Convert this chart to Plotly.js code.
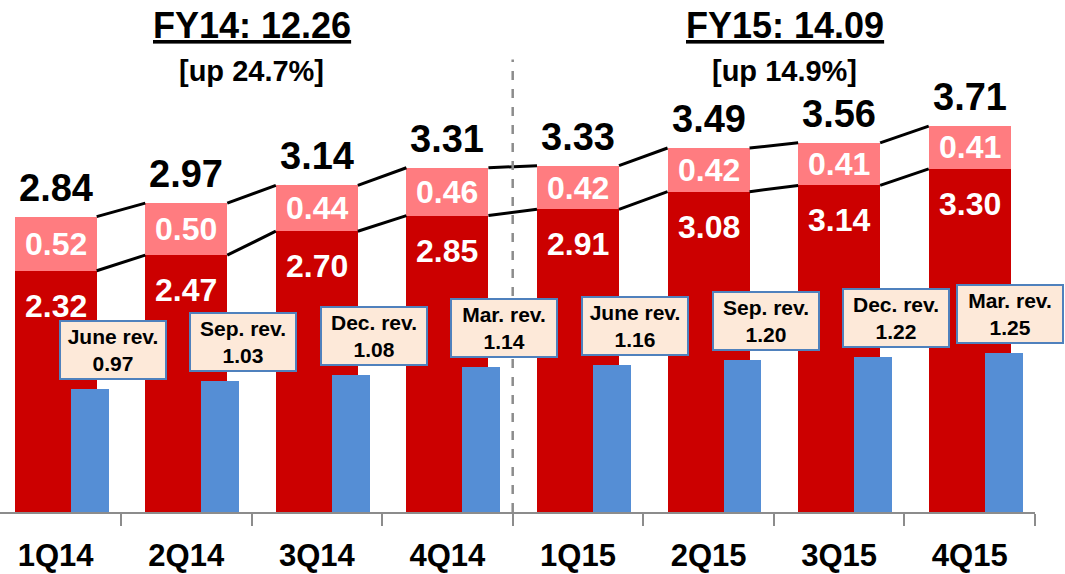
<!DOCTYPE html>
<html>
<head>
<meta charset="utf-8">
<script src="https://cdn.plot.ly/plotly-3.0.1.min.js"></script>
<style>html,body{margin:0;padding:0;background:#fff;}#chart{width:1065px;height:574px;}</style>
</head>
<body>
<div id="chart"></div>
<script>
// ---- data ----
const categories = ['1Q14', '2Q14', '3Q14', '4Q14', '1Q15', '2Q15', '3Q15', '4Q15'];
const coreValues = [2.32, 2.47, 2.70, 2.85, 2.91, 3.08, 3.14, 3.30];
const addValues = [0.52, 0.50, 0.44, 0.46, 0.42, 0.42, 0.41, 0.41];
const totalValues = [2.84, 2.97, 3.14, 3.31, 3.33, 3.49, 3.56, 3.71];
const revValues = [0.97, 1.03, 1.08, 1.14, 1.16, 1.20, 1.22, 1.25];
const revLabels = ['June rev.', 'Sep. rev.', 'Dec. rev.', 'Mar. rev.', 'June rev.', 'Sep. rev.', 'Dec. rev.', 'Mar. rev.'];
const fyTitles = ['FY14: 12.26', 'FY15: 14.09'];
const fySubtitles = ['[up 24.7%]', '[up 14.9%]'];

// ---- styling ----
const FONT = 'Liberation Sans, Arial, sans-serif';
const RED = '#CC0000', PINK = '#FF7C80', BLUE = '#558ED5';
const BAR_W = 0.628, BLUE_W = 0.29, BLUE_OFF = 0.26;

const idx = categories.map((c, i) => i);

const traces = [
  {type: 'bar', x: idx, y: coreValues, width: BAR_W, offset: -BAR_W / 2,
   marker: {color: RED}, hoverinfo: 'skip', showlegend: false},
  {type: 'bar', x: idx, y: addValues, width: BAR_W, offset: -BAR_W / 2,
   marker: {color: PINK}, hoverinfo: 'skip', showlegend: false},
  {type: 'bar', x: idx, y: revValues, yaxis: 'y2', width: BLUE_W, offset: BLUE_OFF - BLUE_W / 2,
   marker: {color: BLUE}, hoverinfo: 'skip', showlegend: false}
];

// series connector lines (bar edge to next bar edge)
function connector(vals) {
  const xs = [], ys = [];
  for (let i = 0; i < vals.length - 1; i++) {
    xs.push(i + BAR_W / 2, i + 1 - BAR_W / 2, null);
    ys.push(vals[i], vals[i + 1], null);
  }
  return {type: 'scatter', mode: 'lines', x: xs, y: ys, connectgaps: false,
          line: {color: '#000', width: 3}, hoverinfo: 'skip', showlegend: false};
}
const stackTops = coreValues.map((v, i) => v + addValues[i]);
traces.push(connector(stackTops));
traces.push(connector(coreValues));

const annotations = [];
idx.forEach(i => {
  annotations.push({x: i, y: stackTops[i], xref: 'x', yref: 'y', text: '<b>' + totalValues[i].toFixed(2) + '</b>',
    showarrow: false, yanchor: 'middle', yshift: 29, font: {family: FONT, size: 38, color: '#000'}});
  annotations.push({x: i, y: coreValues[i] + addValues[i] / 2, xref: 'x', yref: 'y', text: '<b>' + addValues[i].toFixed(2) + '</b>',
    showarrow: false, yanchor: 'middle', font: {family: FONT, size: 32, color: '#fff'}});
  annotations.push({x: i, y: coreValues[i], xref: 'x', yref: 'y', text: '<b>' + coreValues[i].toFixed(2) + '</b>',
    showarrow: false, yanchor: 'middle', yshift: -35, font: {family: FONT, size: 32, color: '#fff'}});
  annotations.push({x: i + BLUE_OFF, y: revValues[i], xref: 'x', yref: 'y2',
    text: '<b>' + revLabels[i] + '</b><br><b>' + revValues[i].toFixed(2) + '</b>',
    showarrow: false, xanchor: 'center', yanchor: 'bottom',
    xshift: (i === idx.length - 1) ? 6 : 23, yshift: 9,
    bgcolor: '#FDE9D9', bordercolor: '#4F81BD', borderwidth: 2, borderpad: 2,
    width: 100, height: 52, align: 'center',
    font: {family: FONT, size: 21, color: '#000'}});
});
const fyX = [1.5, 5.585];
fyTitles.forEach((t, k) => {
  annotations.push({x: fyX[k], y: 1.0093, xref: 'x', yref: 'paper', text: '<b>' + t + '</b>',
    showarrow: false, yanchor: 'middle', font: {family: FONT, size: 36, color: '#000', lineposition: 'under'}});
  annotations.push({x: fyX[k], y: 0.915, xref: 'x', yref: 'paper', text: '<b>' + fySubtitles[k] + '</b>',
    showarrow: false, yanchor: 'middle', font: {family: FONT, size: 29, color: '#000'}});
});

const boundaries = idx.map(i => i + 0.5);

const layout = {
  width: 1065, height: 574,
  margin: {l: 0, r: 30, t: 30, b: 62},
  paper_bgcolor: '#fff', plot_bgcolor: '#fff',
  barmode: 'stack', showlegend: false,
  font: {family: FONT},
  xaxis: {range: [-0.4265, 7.5], tickmode: 'array', tickvals: idx, ticktext: categories,
          ticks: '', showgrid: false, zeroline: false, showline: true, linecolor: '#8C8C8C', linewidth: 2,
          ticklabelstandoff: 15, tickfont: {family: FONT, size: 31, color: '#000', weight: 'bold'},
          minor: {tickmode: 'array', tickvals: boundaries, ticks: 'outside', ticklen: 12, tickwidth: 2,
                  tickcolor: '#8C8C8C', showgrid: false}},
  yaxis: {range: [0, 4.6346], showgrid: false, zeroline: false, showticklabels: false, showline: false, ticks: ''},
  yaxis2: {range: [0, 3.801], overlaying: 'y', side: 'right', showgrid: false, zeroline: false,
           showticklabels: false, showline: false, ticks: ''},
  shapes: [{type: 'line', xref: 'x', yref: 'y', x0: 3.5, x1: 3.5, y0: 0, y1: 4.35,
            line: {color: '#8C8C8C', width: 2.5, dash: 'dash'}}],
  annotations: annotations
};

Plotly.newPlot('chart', traces, layout, {displayModeBar: false, staticPlot: true});
</script>
</body>
</html>
